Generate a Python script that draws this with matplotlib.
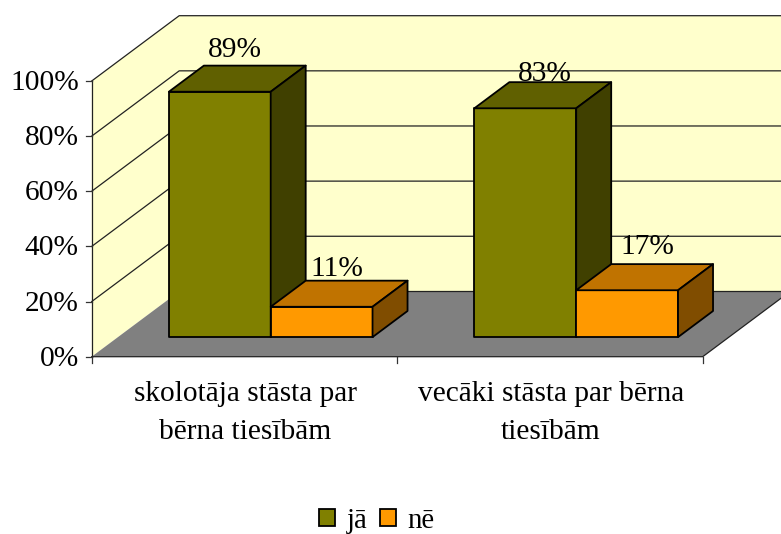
import matplotlib
matplotlib.use('Agg')
import matplotlib.pyplot as plt
from matplotlib.patches import Polygon, Patch

plt.rcParams['font.family'] = ['Liberation Serif', 'DejaVu Serif']

# chart data
categories = ['skolotāja stāsta par\nbērna tiesībām', 'vecāki stāsta par bērna\ntiesībām']
series_names = ['jā', 'nē']
ja_values = [89, 83]
ne_values = [11, 17]
y_ticks = [0, 20, 40, 60, 80, 100]

# colours: front, top, side
OLIVE = ('#808000', '#606000', '#404000')
ORANGE = ('#FF9900', '#C07300', '#804D00')

# fake 3d projection, pixels of the 781x534 picture
X0, Y0 = 91.7, 356.7
CAT_W = 305.5
Y_SCALE = 2.757
DEPTH_X, DEPTH_Y = 87.5, 65.3
BAR_D0, BAR_D1 = 0.3, 0.7
FS = 21.2
LINE = '#222222'


def project(u, v, d=0.0):
    """u = category position, v = percent, d = depth 0 (front) to 1 (back)"""
    return X0 + u * CAT_W + d * DEPTH_X, Y0 - v * Y_SCALE - d * DEPTH_Y


def draw_bar(ax, u0, u1, value, colors):
    front = [project(u0, 0, BAR_D0), project(u1, 0, BAR_D0),
             project(u1, value, BAR_D0), project(u0, value, BAR_D0)]
    top = [project(u0, value, BAR_D0), project(u1, value, BAR_D0),
           project(u1, value, BAR_D1), project(u0, value, BAR_D1)]
    side = [project(u1, 0, BAR_D0), project(u1, 0, BAR_D1),
            project(u1, value, BAR_D1), project(u1, value, BAR_D0)]
    for pts, c in zip((front, top, side), colors):
        # bars have to cover the gridlines
        ax.add_patch(Polygon(pts, closed=True, facecolor=c, edgecolor='black',
                             linewidth=1.3, joinstyle='round', zorder=2.5))


fig = plt.figure(figsize=(7.81, 5.34), dpi=100)
ax = fig.add_axes([0, 0, 1, 1])
ax.set_xlim(0, 781)
ax.set_ylim(534, 0)
ax.axis('off')

n = len(categories)

# walls and floor
ax.add_patch(Polygon([project(0, 0, 1), project(n, 0, 1), project(n, 100, 1), project(0, 100, 1)],
                     closed=True, facecolor='#FFFFCC', edgecolor='none'))
ax.add_patch(Polygon([project(0, 0, 0), project(0, 0, 1), project(0, 100, 1), project(0, 100, 0)],
                     closed=True, facecolor='#FFFFCC', edgecolor='none'))
ax.add_patch(Polygon([project(0, 0, 0), project(n, 0, 0), project(n, 0, 1), project(0, 0, 1)],
                     closed=True, facecolor='#808080', edgecolor='none'))

# floor edges and front of left wall
for pts in ([project(0, 0, 0), project(n, 0, 0), project(n, 0, 1)],
            [project(0, 0, 1), project(n, 0, 1)],
            [project(0, 0, 0), project(0, 100, 0)]):
    xs, ys = zip(*pts)
    ax.plot(xs, ys, color=LINE, lw=0.9)

# gridlines on both walls, y ticks
for t in y_ticks:
    xs, ys = zip(project(0, t, 0), project(0, t, 1), project(n, t, 1))
    if t > 0:
        ax.plot(xs, ys, color=LINE, lw=0.9)
    x, y = project(0, t, 0)
    ax.plot([x - 6, x], [y, y], color='#333333', lw=0.9)
    ax.text(x - 13, y + 2, f'{t}%', ha='right', va='center', fontsize=FS, color='black')

# category ticks and labels
for i in range(n + 1):
    x, y = project(i, 0, 0)
    ax.plot([x, x], [y, y + 6], color='#333333', lw=0.9)
for i, cat in enumerate(categories):
    x, y = project(i + 0.5, 0, 0)
    ax.text(x + 1, y + 56, cat, ha='center', va='center', fontsize=FS, color='black', linespacing=1.6)

# bars
for i in range(n):
    draw_bar(ax, i + 1 / 6, i + 0.5, ja_values[i], OLIVE)
    draw_bar(ax, i + 0.5, i + 5 / 6, ne_values[i], ORANGE)

# value labels sit above the bar tops, nudged by hand
label_nudge = {(0, 0): (-2, -29), (1, 0): (2, -21), (0, 1): (-2, -25), (1, 1): (3, -30)}
for i in range(n):
    for s, vals in enumerate((ja_values, ne_values)):
        u = i + 1 / 3 if s == 0 else i + 2 / 3
        x, y = project(u, vals[i], 0.5)
        dx, dy = label_nudge[(i, s)]
        ax.text(x + dx, y + dy, f'{vals[i]}%', ha='center', va='center', fontsize=FS, color='black')

handles = [Patch(facecolor=OLIVE[0], edgecolor='black', linewidth=1.3),
           Patch(facecolor=ORANGE[0], edgecolor='black', linewidth=1.3)]
fig.legend(handles, series_names, loc='center', bbox_to_anchor=(377 / 781, 1 - 520.5 / 534), ncol=2,
           frameon=False, fontsize=20.6, handlelength=0.55, handleheight=0.55,
           handletextpad=0.42, columnspacing=0.42, borderpad=0, borderaxespad=0)

fig.savefig('out.png', dpi=100)
